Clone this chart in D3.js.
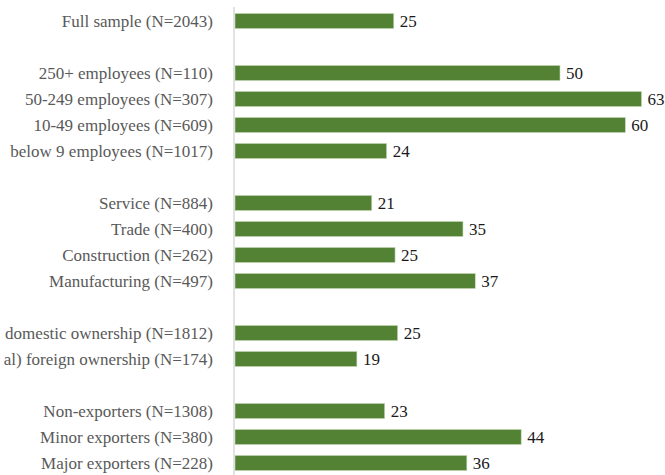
<!DOCTYPE html>
<html>
<head>
<meta charset="utf-8">
<script src="https://cdn.jsdelivr.net/npm/d3@7"></script>
<style>
  body { margin: 0; background: #fff; }
  text { font-family: "Liberation Serif", "DejaVu Serif", serif; }
</style>
</head>
<body>
<div id="chart"></div>
<script>
// row labels, top to bottom; blank strings are spacer rows
var categories = [
    "Full sample (N=2043)",
    "",
    "250+ employees (N=110)",
    "50-249 employees (N=307)",
    "10-49 employees (N=609)",
    "below 9 employees (N=1017)",
    " ",
    "Service (N=884)",
    "Trade (N=400)",
    "Construction (N=262)",
    "Manufacturing (N=497)",
    "  ",
    "domestic ownership (N=1812)",
    "al) foreign ownership (N=174)",
    "   ",
    "Non-exporters (N=1308)",
    "Minor exporters (N=380)",
    "Major exporters (N=228)"
];
// bar lengths
var values = [24.7, null, 50.4, 63.0, 60.5, 23.6, null, 21.3, 35.4, 24.9, 37.3, null, 25.3, 19.0, null, 23.3, 44.4, 36.0];
// printed data labels
var valueLabels = ["25", "", "50", "63", "60", "24", "", "21", "35", "25", "37", "", "25", "19", "", "23", "44", "36"];

var width = 665, height = 475;
var margin = { top: 8, right: 0, bottom: 0, left: 234 };

var data = categories.map(function(c, i) {
    return { label: c, value: values[i], text: valueLabels[i] };
});

var svg = d3.select("#chart").append("svg")
    .attr("width", width)
    .attr("height", height);

var yScale = d3.scaleBand()
    .domain(categories)
    .range([margin.top, margin.top + 26 * categories.length])
    .paddingInner(0.42)
    .paddingOuter(0.21);

var xScale = d3.scaleLinear()
    .domain([0, 63])
    .range([margin.left, 641.5]);

var bars = data.filter(function(d) { return d.value != null; });

svg.selectAll(".bar")
    .data(bars)
    .enter().append("rect")
    .attr("class", "bar")
    .attr("x", xScale(0) + 1)
    .attr("y", function(d) { return yScale(d.label); })
    .attr("width", function(d) { return xScale(d.value) - xScale(0) - 1; })
    .attr("height", yScale.bandwidth())
    .attr("fill", "#548235")
    .attr("stroke", "#c5dbb8")
    .attr("stroke-width", 0.6);

// vertical axis line
svg.append("line")
    .attr("x1", xScale(0)).attr("x2", xScale(0))
    .attr("y1", 7).attr("y2", height)
    .attr("stroke", "#d9d9d9")
    .attr("stroke-width", 1.5);

// category labels
svg.selectAll(".cat")
    .data(bars)
    .enter().append("text")
    .attr("class", "cat")
    .attr("x", 213)
    .attr("y", function(d) { return yScale(d.label) + yScale.bandwidth() / 2; })
    .attr("dy", "0.35em")
    .attr("text-anchor", "end")
    .style("font-size", "17px")
    .attr("fill", "#595959")
    .text(function(d) { return d.label; });

// value labels
svg.selectAll(".val")
    .data(bars)
    .enter().append("text")
    .attr("class", "val")
    .attr("x", function(d) { return xScale(d.value) + 6; })
    .attr("y", function(d) { return yScale(d.label) + yScale.bandwidth() / 2; })
    .attr("dy", "0.35em")
    .style("font-size", "17px")
    .attr("fill", "#1a1a1a")
    .text(function(d) { return d.text; });
</script>
</body>
</html>
